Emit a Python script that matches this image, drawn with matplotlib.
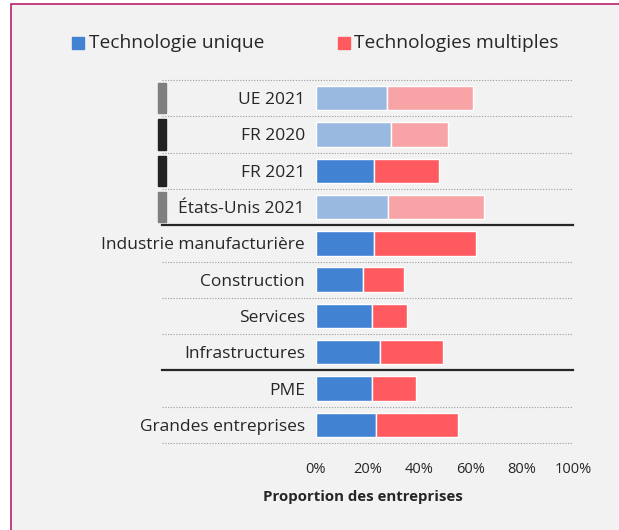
import matplotlib.pyplot as plt
from matplotlib.patches import Rectangle

plt.rcParams['font.family'] = ['Open Sans', 'DejaVu Sans']

categories = ["UE 2021", "FR 2020", "FR 2021", "États-Unis 2021",
              "Industrie manufacturière", "Construction", "Services",
              "Infrastructures", "PME", "Grandes entreprises"]
unique = [27.5, 29.0, 22.4, 28.2, 22.7, 18.4, 21.8, 24.8, 21.7, 23.5]
multiple = [33.7, 22.5, 25.6, 37.3, 39.6, 16.0, 13.5, 24.5, 17.3, 31.8]
# faded rows are the reference groups, marker colour on the left
faded = [True, True, False, True, False, False, False, False, False, False]
markers = ["#7f7f7f", "#222222", "#222222", "#7f7f7f"]
ticks = [0, 20, 40, 60, 80, 100]
tick_labels = ["0%", "20%", "40%", "60%", "80%", "100%"]

blue, red = "#4282d3", "#ff5a5f"
blue_l, red_l = "#99b9e0", "#f8a4a6"
bg = "#f2f2f2"
txt = "#262626"

fig = plt.figure(figsize=(6.19, 5.30), dpi=100)
fig.patch.set_facecolor("white")
frame = Rectangle((11 / 619, -0.01), 1.0, 1 - 4 / 530 + 0.01,
                  transform=fig.transFigure, facecolor=bg,
                  edgecolor="#b8216e", linewidth=1.2, zorder=-10)
fig.patches.append(frame)

ax = fig.add_axes([316 / 619, 1 - 443 / 530, 257 / 619, 363 / 530])
ax.set_facecolor("none")

y = list(range(len(categories)))
for i in y:
    c1 = blue_l if faded[i] else blue
    c2 = red_l if faded[i] else red
    ax.barh(i, unique[i], height=0.67, color=c1, edgecolor="white", linewidth=1)
    ax.barh(i, multiple[i], left=unique[i], height=0.67, color=c2,
            edgecolor="white", linewidth=1)

ax.set_xlim(0, 100)
ax.set_ylim(9.5, -0.5)
ax.set_yticks(y)
ax.set_yticklabels(categories, fontsize=12.5, color=txt)
ax.set_xticks(ticks)
ax.set_xticklabels(tick_labels, fontsize=10.5, color=txt)
ax.tick_params(length=0)
ax.tick_params(axis="y", pad=8)
ax.tick_params(axis="x", pad=14)
for s in ax.spines.values():
    s.set_visible(False)

# row separators, extended under the labels
xmin = -(316 - 162) / 257
for k in range(len(categories) + 1):
    yy = k - 0.5
    if k in (4, 8):
        ax.axhline(yy, xmin=xmin, xmax=1, color=txt, lw=1.6, clip_on=False)
    else:
        ax.axhline(yy, xmin=xmin, xmax=1, color="#9a9a9a", lw=0.8,
                   ls=(0, (1, 1.5)), clip_on=False)

# group markers for the comparison rows
for i, col in enumerate(markers):
    ax.add_patch(Rectangle((-(316 - 158) / 257, i - 0.42), 8 / 257, 0.84,
                           transform=ax.get_yaxis_transform(), color=col,
                           clip_on=False))

fig.text(363 / 619, 1 - 497 / 530, "Proportion des entreprises",
         fontsize=10.8, fontweight="bold", color=txt, ha="center", va="center")

# legend
fig.patches.append(Rectangle((72 / 619, 1 - 49 / 530), 12 / 619, 12 / 530,
                             transform=fig.transFigure, color=blue))
fig.text(89 / 619, 1 - 43 / 530, "Technologie unique", fontsize=13.8,
         va="center", color=txt)
fig.patches.append(Rectangle((338 / 619, 1 - 49 / 530), 12 / 619, 12 / 530,
                             transform=fig.transFigure, color=red))
fig.text(354 / 619, 1 - 43 / 530, "Technologies multiples", fontsize=13.8,
         va="center", color=txt)

fig.savefig("out.png", dpi=100, facecolor=fig.get_facecolor())
